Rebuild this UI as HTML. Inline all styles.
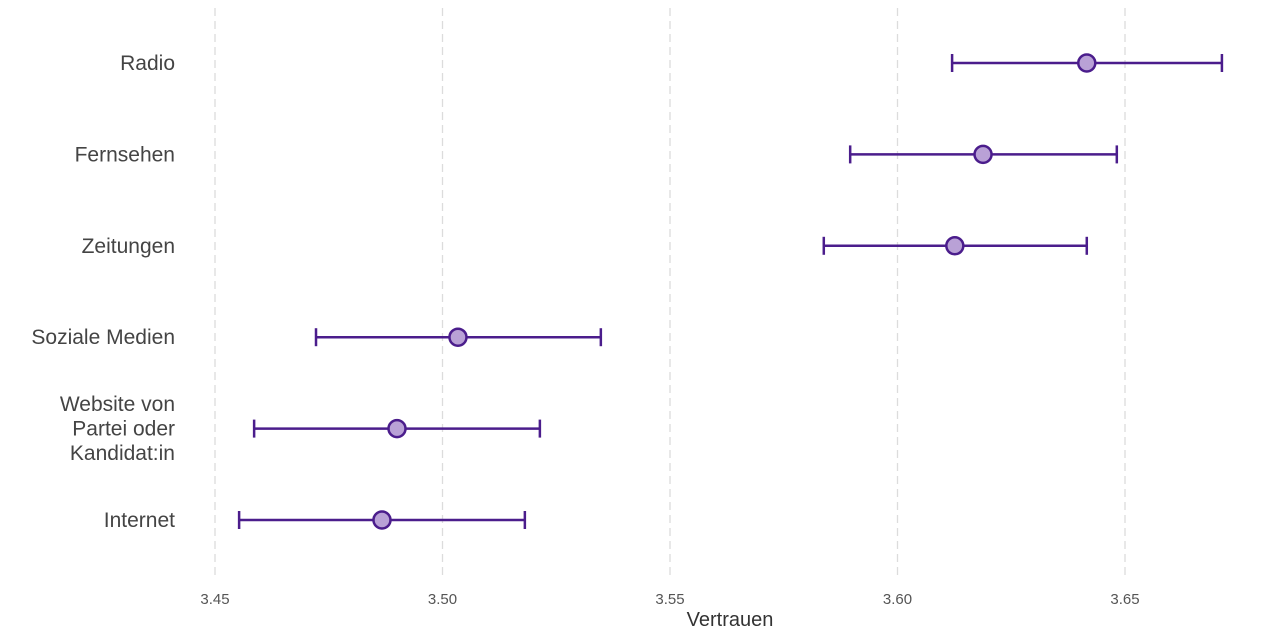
<!DOCTYPE html>
<html><head><meta charset="utf-8"><style>
body{margin:0;background:#fff;}
svg{display:block;font-family:"Liberation Sans",sans-serif;}
</style></head><body>
<svg id="chart" width="1280" height="640"></svg>
<script>
const categories=["Radio","Fernsehen","Zeitungen","Soziale Medien","Website von|Partei oder|Kandidat:in","Internet"];
const means=[3.6416,3.6188,3.6126,3.5034,3.4900,3.4867];
const lows=[3.6120,3.5896,3.5838,3.4722,3.4586,3.4553];
const highs=[3.6713,3.6482,3.6416,3.5348,3.5214,3.5181];
const ticks=[3.45,3.50,3.55,3.60,3.65];
const NS="http://www.w3.org/2000/svg";
const svg=document.getElementById('chart');
const x=v=>215+(v-3.45)*4550;
const y=i=>63+i*91.4;
function mk(t,a,p){const e=document.createElementNS(NS,t);for(const k in a)e.setAttribute(k,a[k]);(p||svg).appendChild(e);return e;}
ticks.forEach(t=>{
  const g=mk('line',{x1:x(t),x2:x(t),y1:8,y2:575,stroke:'#dcdcdc','stroke-width':1.3,'stroke-dasharray':'8,5'});
  
  
  const l=mk('text',{x:x(t),y:604,'text-anchor':'middle','font-size':15,fill:'#555'});
  l.textContent=t.toFixed(2);
  
  
});
const xt=mk('text',{x:730,y:626,'text-anchor':'middle','font-size':20,fill:'#333'});
xt.textContent='Vertrauen';


const col='#4b1d8c';
categories.forEach((c,i)=>{
  const yy=y(i);
  const parts=c.split('|');
  const t=mk('text',{x:175,'text-anchor':'end','font-size':21,fill:'#444'});
  
  
  parts.forEach((p,j)=>{const s=mk('tspan',{x:175,y:yy+7+(j-(parts.length-1)/2)*24.5},t);s.textContent=p;});
  const g=mk('g',{});
  
  
  mk('line',{x1:x(lows[i]),x2:x(highs[i]),y1:yy,y2:yy,stroke:col,'stroke-width':2.5},g);
  mk('line',{x1:x(lows[i]),x2:x(lows[i]),y1:yy-9,y2:yy+9,stroke:col,'stroke-width':2.5},g);
  mk('line',{x1:x(highs[i]),x2:x(highs[i]),y1:yy-9,y2:yy+9,stroke:col,'stroke-width':2.5},g);
  const p=mk('circle',{cx:x(means[i]),cy:yy,r:8.5,fill:'#b9a1d6',stroke:col,'stroke-width':2.5});
  
  
});
</script>
</body></html>
